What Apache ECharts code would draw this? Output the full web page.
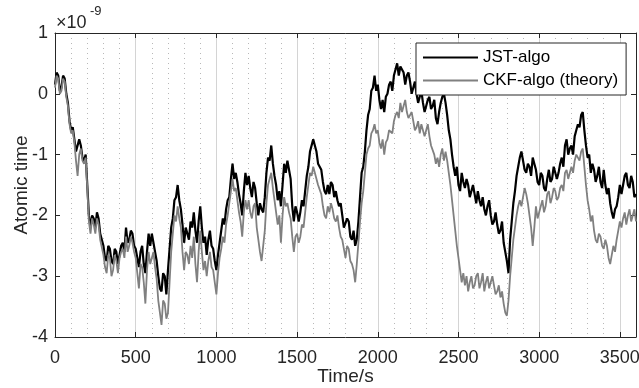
<!DOCTYPE html>
<html>
<head>
<meta charset="utf-8">
<script src="https://cdn.jsdelivr.net/npm/echarts@6/dist/echarts.min.js"></script>
<style>
  html, body { margin: 0; padding: 0; background: #fff; }
  #chart { width: 639px; height: 388px; }
</style>
</head>
<body>
<div id="chart"></div>
<script>
// sample spacing of the two traces (seconds)
const step = 10;

// JST-algo, units of 1e-9, one value every 10 s from 0 to 3600
const jstValues = [
  0.15, 0.35, 0.3, 0.05, 0.1, 0.3, 0.25, 0.0, -0.15, -0.45,
  -0.6, -0.55, -0.75, -0.95, -0.95, -0.75, -0.85, -1.05, -1.1, -1.0,
  -1.5, -2.0, -2.2, -2.0, -2.05, -2.2, -1.95, -2.05, -2.3, -2.3,
  -2.5, -2.7, -2.75, -2.5, -2.55, -2.75, -2.8, -2.55, -2.6, -2.8,
  -2.65, -2.5, -2.45, -2.6, -2.2, -2.45, -2.4, -2.25, -2.3, -2.5,
  -2.55, -2.7, -2.85, -2.6, -2.5, -2.8, -2.95, -2.6, -2.3, -2.5,
  -2.3, -2.45, -2.6, -2.75, -3.0, -3.2, -3.25, -2.95, -3.0, -3.3,
  -2.9, -2.55, -2.2, -2.05, -1.75, -1.7, -1.5, -1.75, -1.9, -2.15,
  -2.45, -2.2, -2.3, -2.4, -2.1, -2.2, -1.95, -2.25, -2.45, -2.1,
  -1.85, -2.2, -2.45, -2.35, -2.65, -2.4, -2.25, -2.5, -2.55, -2.75,
  -2.9, -2.65, -2.45, -2.25, -2.05, -2.15, -1.9, -1.75, -1.7, -1.4,
  -1.15, -1.4, -1.3, -1.45, -1.65, -1.8, -2.0, -1.6, -1.3, -1.5,
  -1.35, -1.55, -1.7, -1.45, -1.55, -1.8, -2.0, -1.8, -1.9, -1.95,
  -1.7, -1.3, -1.05, -1.1, -0.85, -1.15, -1.35, -1.5, -1.75, -1.6,
  -1.85, -1.5, -1.15, -1.3, -1.1, -1.25, -1.4, -1.85, -2.1, -1.85,
  -1.95, -2.1, -1.95, -1.75, -1.85, -1.6, -1.35, -1.2, -0.95, -0.95,
  -0.75, -0.85, -0.95, -1.15, -1.2, -1.25, -1.45, -1.6, -1.65, -1.5,
  -1.65, -1.45, -1.5, -1.7, -1.6, -1.75, -1.85, -1.8, -2.0, -2.2,
  -2.2, -2.05, -2.1, -2.35, -2.4, -2.25, -2.5, -2.4, -2.1, -1.7,
  -1.3, -1.2, -0.95, -0.6, -0.35, -0.25, 0.05, 0.1, 0.3, 0.05,
  0.15, -0.1, -0.25, -0.1, -0.3, -0.05, 0.0, 0.15, 0.2, 0.05,
  0.3, 0.4, 0.5, 0.3, 0.45, 0.4, 0.35, 0.15, 0.3, 0.35,
  0.2, 0.0, 0.1, 0.2, 0.0, -0.15, -0.05, 0.05, -0.15, -0.3,
  -0.2, -0.1, -0.05, -0.25, -0.2, -0.1, -0.4, -0.5, -0.3, -0.15,
  -0.05, 0.0, -0.15, -0.35, -0.6, -0.75, -1.0, -1.2, -1.35, -1.2,
  -1.5, -1.6, -1.3, -1.45, -1.55, -1.4, -1.5, -1.7, -1.7, -1.5,
  -1.65, -1.8, -1.6, -1.75, -1.85, -1.7, -1.9, -2.0, -1.85, -1.75,
  -2.0, -2.15, -2.1, -1.95, -2.15, -2.3, -2.25, -2.1, -2.45, -2.6,
  -2.75, -2.95, -2.4, -2.1, -1.8, -1.6, -1.35, -1.2, -1.05, -0.95,
  -1.1, -1.25, -1.3, -1.15, -1.2, -1.35, -1.05, -1.15, -1.25, -1.45,
  -1.5, -1.3, -1.35, -1.55, -1.6, -1.4, -1.25, -1.45, -1.4, -1.2,
  -1.2, -1.4, -1.3, -1.15, -1.05, -1.2, -0.85, -0.75, -1.0, -0.9,
  -0.85, -1.0, -0.7, -0.6, -0.5, -0.55, -0.35, -0.3, -0.6, -0.85,
  -1.05, -1.0, -1.3, -1.15, -1.25, -1.45, -1.35, -1.2, -1.45, -1.55,
  -1.25, -1.5, -1.65, -1.55, -1.8, -1.95, -2.05, -1.9, -1.85, -1.7,
  -1.5, -1.65, -1.5, -1.35, -1.3, -1.5, -1.55, -1.35, -1.45, -1.7,
  -1.65
];

// CKF-algo (theory), same sampling
const ckfValues = [
  0.1, 0.3, 0.25, 0.0, 0.05, 0.25, 0.2, -0.05, -0.2, -0.5,
  -0.65, -0.6, -0.8, -1.1, -1.35, -1.0, -0.9, -1.1, -1.15, -1.05,
  -1.55, -2.1, -2.3, -2.05, -2.15, -2.3, -2.05, -2.15, -2.4, -2.4,
  -2.65, -2.85, -2.95, -2.65, -2.7, -3.0, -2.9, -2.65, -2.75, -2.95,
  -2.7, -2.6, -2.55, -2.7, -2.35, -2.6, -2.5, -2.35, -2.45, -2.6,
  -2.7, -2.95, -3.2, -2.8, -2.85, -3.1, -3.45, -2.9, -2.6, -2.8,
  -2.7, -2.6, -2.85, -3.05, -3.4, -3.6, -3.8, -3.4, -3.45, -3.7,
  -3.6, -3.1, -2.6, -2.3, -2.0, -2.1, -1.85, -2.05, -2.2, -2.6,
  -2.9, -2.6, -2.65, -2.8, -2.5, -2.7, -2.35, -2.8, -3.1, -2.6,
  -2.25, -2.6, -2.9, -2.75, -3.0, -2.75, -2.6, -2.85, -2.9, -3.1,
  -3.3, -2.95, -2.7, -2.55, -2.35, -2.45, -2.15, -2.0, -1.8, -1.6,
  -1.4, -1.6, -1.55, -1.75, -1.95, -2.1, -2.35, -1.95, -1.75, -1.9,
  -1.75, -1.95, -2.05, -1.85, -1.8, -2.2, -2.4, -2.6, -2.75, -2.5,
  -2.25, -1.8, -1.5, -1.5, -1.3, -1.55, -1.75, -1.95, -2.15, -2.0,
  -2.45, -2.0, -1.7, -1.85, -1.8, -1.95, -2.05, -2.35, -2.6, -2.35,
  -2.3, -2.45, -2.35, -2.15, -2.2, -1.95, -1.7, -1.5, -1.3, -1.35,
  -1.2, -1.3, -1.3, -1.5, -1.5, -1.65, -1.85, -2.0, -2.05, -1.85,
  -1.95, -1.8, -1.9, -2.05, -2.1, -2.0, -2.2, -2.35, -2.4, -2.55,
  -2.7, -2.5, -2.55, -2.75, -2.8, -2.9, -3.1, -2.8, -2.45, -2.1,
  -1.8, -1.6, -1.3, -1.0, -0.9, -0.85, -0.65, -0.6, -0.5, -0.65,
  -0.6, -0.8, -0.9, -0.75, -1.0, -0.8, -0.75, -0.6, -0.6, -0.65,
  -0.45, -0.35, -0.3, -0.4, -0.15, -0.3, -0.2, -0.1, -0.3, -0.4,
  -0.4, -0.3, -0.45, -0.6, -0.55, -0.45, -0.65, -0.5, -0.5, -0.7,
  -0.6, -0.5, -0.7, -0.85, -0.85, -1.0, -1.15, -1.05, -1.2, -1.0,
  -0.9, -1.1, -0.95, -1.1, -1.3, -1.5, -1.75, -2.0, -2.25, -2.5,
  -2.7, -2.9, -3.1, -2.95, -3.15, -3.0, -3.25, -3.1, -3.0, -3.2,
  -3.15, -3.0, -2.95, -3.2, -3.1, -2.95, -3.25, -3.1, -3.0, -3.2,
  -3.1, -3.0, -3.15, -3.3, -3.25, -3.15, -3.35, -3.25, -3.45, -3.6,
  -3.65, -3.4, -3.0, -2.7, -2.4, -2.2, -2.0, -1.85, -1.75, -1.85,
  -1.7, -1.55, -1.65, -1.8, -2.0, -2.2, -2.5, -2.2, -1.85, -2.05,
  -2.05, -1.85, -1.75, -1.95, -1.85, -1.65, -1.6, -1.8, -1.7, -1.55,
  -1.6, -1.75, -1.7, -1.55, -1.5, -1.6, -1.3, -1.25, -1.4, -1.3,
  -1.2, -1.3, -1.1, -1.0, -1.05, -1.1, -0.95, -0.9, -1.2, -1.5,
  -1.75, -1.9, -2.1, -2.0, -2.25, -2.4, -2.45, -2.3, -2.35, -2.5,
  -2.55, -2.4, -2.5, -2.7, -2.8, -2.65, -2.5, -2.6, -2.4, -2.25,
  -2.1, -2.2, -2.05, -1.95, -2.15, -2.0, -1.9, -2.1, -2.0, -1.9,
  -2.1
];

const xTicks = [0, 500, 1000, 1500, 2000, 2500, 3000, 3500];
const yTicks = [-4, -3, -2, -1, 0, 1];

const font = "'Liberation Sans', Arial, Helvetica, sans-serif";
const ink = "#262626";

function toPairs(values) {
  return values.map((v, i) => [i * step, v]);
}

const chart = echarts.init(document.getElementById("chart"), null, { renderer: "canvas" });

const hiddenAxisLabel = { show: false };

chart.setOption({
  animation: false,
  backgroundColor: "#fff",
  textStyle: { fontFamily: font },
  grid: { left: 55, right: 3, top: 33, bottom: 51, containLabel: false, outerBoundsMode: "none" },
  legend: {
    left: 416,
    top: 43,
    orient: "vertical",
    backgroundColor: "#fff",
    borderColor: ink,
    borderWidth: 1,
    borderRadius: 0,
    padding: [6, 8, 6, 7],
    itemGap: 6,
    itemWidth: 55,
    itemHeight: 2,
    icon: "rect",
    textStyle: { fontSize: 17, color: "#000", fontFamily: font },
    data: ["JST-algo", "CKF-algo (theory)"],
  },
  graphic: [
    {
      type: "text",
      left: 56,
      top: 14,
      style: { text: "\u00d710", font: "18px " + font, fill: ink },
    },
    {
      type: "text",
      left: 90,
      top: 5,
      style: { text: "-9", font: "13px " + font, fill: ink },
    },
  ],
  xAxis: [
    {
      type: "value",
      min: 0,
      max: 3600,
      interval: 500,
      name: "Time/s",
      nameLocation: "middle",
      nameGap: 30,
      nameMoveOverlap: false,
      nameTextStyle: { fontSize: 19, color: ink, fontFamily: font },
      axisLine: { show: true, onZero: false, lineStyle: { color: ink, width: 1 } },
      axisTick: { show: true, inside: true, length: 5, lineStyle: { color: ink } },
      axisLabel: {
        fontSize: 18,
        color: ink,
        margin: 12,
        fontFamily: font,
        showMaxLabel: false,
        formatter: (v) => (xTicks.includes(v) ? String(v) : ""),
      },
      splitLine: { show: true, lineStyle: { color: "#d4d4d4", width: 1 } },
      minorTick: { show: false, splitNumber: 5 },
      minorSplitLine: { show: true, lineStyle: { color: "#b8b8b8", width: 1, type: [1, 4] } },
    },
    {
      type: "value",
      position: "top",
      min: 0,
      max: 3600,
      interval: 500,
      axisLine: { show: true, onZero: false, lineStyle: { color: ink, width: 1 } },
      axisTick: { show: true, inside: true, length: 5, lineStyle: { color: ink } },
      axisLabel: hiddenAxisLabel,
      splitLine: { show: false },
    },
  ],
  yAxis: [
    {
      type: "value",
      min: -4,
      max: 1,
      interval: 1,
      name: "Atomic time",
      nameLocation: "middle",
      nameGap: 24,
      nameMoveOverlap: false,
      nameRotate: 90,
      nameTextStyle: { fontSize: 19, color: ink, fontFamily: font },
      axisLine: { show: true, onZero: false, lineStyle: { color: ink, width: 1 } },
      axisTick: { show: true, inside: true, length: 5, lineStyle: { color: ink } },
      axisLabel: {
        fontSize: 18,
        color: ink,
        margin: 7,
        fontFamily: font,
        formatter: (v) => (yTicks.includes(v) ? String(v) : ""),
      },
      splitLine: { show: false },
    },
    {
      type: "value",
      position: "right",
      min: -4,
      max: 1,
      interval: 1,
      axisLine: { show: true, onZero: false, lineStyle: { color: ink, width: 1 } },
      axisTick: { show: true, inside: true, length: 5, lineStyle: { color: ink } },
      axisLabel: hiddenAxisLabel,
      splitLine: { show: false },
    },
  ],
  series: [
    {
      name: "JST-algo",
      type: "line",
      showSymbol: false,
      symbol: "none",
      data: toPairs(jstValues),
      lineStyle: { color: "#000", width: 2.2 },
      itemStyle: { color: "#000" },
      z: 2,
    },
    {
      name: "CKF-algo (theory)",
      type: "line",
      showSymbol: false,
      symbol: "none",
      data: toPairs(ckfValues),
      lineStyle: { color: "#808080", width: 1.8 },
      itemStyle: { color: "#808080" },
      z: 3,
    },
  ],
});
</script>
</body>
</html>
